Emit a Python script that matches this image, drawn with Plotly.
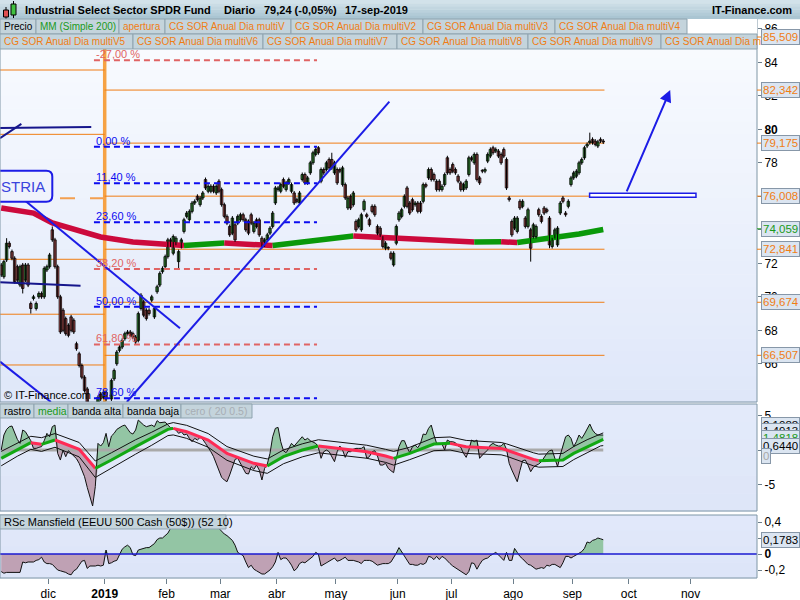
import numpy as np
import pandas as pd
import plotly.graph_objects as go

# ====================== DATA ======================
TITLE_NAME = "Industrial Select Sector SPDR Fund"
TITLE_PERIOD = "Diario"
TITLE_LAST = "79,24 (-0,05%)"
TITLE_DATE = "17-sep-2019"
BRAND = "IT-Finance.com"
LAST_DAY = "2019-09-17"

opens = [
    71.9, 71.2, 72.2, 73.2, 72.7, 72.3, 71.8, 70.7, 71.9, 71.0,
    71.9, 69.6, 69.9, 69.3, 70.0, 70.2, 70.0, 71.6, 71.8, 74.0,
    73.4, 71.8, 70.0, 69.2, 68.7, 68.3, 68.8, 68.6, 67.2, 66.6,
    65.9, 65.2, 64.5, 63.4, 61.6, 62.2, 63.1, 64.2, 64.0,
    64.3, 63.6, 63.9, 65.1, 66.0, 66.8, 67.0, 67.5, 67.8, 67.9,
    67.8, 67.6, 67.4, 69.3, 69.7, 69.2, 69.2, 69.8, 68.8, 70.3,
    70.7, 71.5, 71.8, 72.4, 73.4, 72.6, 73.2, 72.1, 73.0, 73.9,
    74.8, 74.6, 75.1, 75.6, 76.0, 75.5, 75.9, 77.0, 76.3, 76.3,
    76.6, 76.2, 76.9, 76.4, 75.5, 74.8, 74.2, 73.8, 74.3, 74.4,
    74.6, 74.9, 74.6, 74.5, 74.9, 73.9, 74.6, 74.6, 73.5, 73.1,
    73.4, 73.8, 74.2, 75.6, 76.4, 76.3, 77.0, 76.4, 76.8, 76.3,
    76.2, 75.8, 75.6, 77.0, 77.3, 76.8, 77.4, 78.0, 78.5, 78.9,
    76.9, 77.6, 77.6, 78.2, 78.2, 77.4, 77.6, 77.6, 76.7, 76.7,
    75.3, 76.0, 75.5, 74.5, 74.2, 74.0, 75.2, 74.9, 74.6, 75.4,
    75.4, 74.2, 74.1, 73.5, 72.9, 72.9, 72.6, 71.9, 73.2, 74.6,
    74.8, 75.4, 76.5, 75.6, 75.8, 75.5, 75.6, 75.6, 75.7, 76.7,
    77.1, 77.6, 77.3, 76.9, 76.9, 76.4, 76.7, 78.3, 77.6, 77.9,
    77.6, 77.2, 76.8, 76.4, 76.5, 77.3, 78.3, 78.0, 78.5, 77.1,
    77.5, 77.5, 78.1, 78.4, 78.9, 78.7, 78.7, 78.5, 78.8, 78.2,
    75.9, 74.5, 74.1, 73.9, 75.7, 75.4, 74.7, 74.2, 74.0, 73.6,
    73.6, 75.2, 74.8, 75.3, 75.2, 74.7, 73.0, 73.6, 73.1, 75.0,
    75.9, 75.0, 75.4, 76.7, 77.1, 77.2, 77.4, 78.0, 78.3, 79.0,
    79.2, 79.4, 79.3, 79.0, 79.4, 79.3,
]
closes = [
    71.3, 72.1, 73.2, 73.0, 72.3, 70.9, 71.0, 71.8, 70.5, 71.9,
    70.7, 69.3, 70.0, 69.6, 70.2, 70.0, 71.7, 71.8, 72.5, 73.4,
    71.8, 70.0, 67.9, 68.0, 67.8, 67.7, 68.0, 67.9, 66.9, 65.9,
    65.2, 64.4, 63.4, 61.5, 62.4, 63.6, 64.0, 63.9, 64.3,
    63.9, 63.0, 65.0, 65.6, 66.7, 67.0, 67.4, 67.8, 67.9, 67.7,
    67.6, 67.3, 69.0, 70.1, 68.9, 68.7, 69.0, 70.0, 69.3, 70.6,
    71.4, 71.7, 72.4, 73.4, 73.1, 73.6, 73.5, 72.7, 73.4, 74.6,
    75.0, 75.1, 75.6, 75.7, 75.8, 75.9, 76.2, 76.5, 76.6, 76.6,
    76.3, 76.6, 76.3, 75.5, 74.8, 74.4, 73.7, 74.7, 73.4, 74.8,
    74.9, 74.6, 74.0, 73.8, 74.4, 74.4, 74.2, 73.7, 73.0, 73.4,
    73.7, 74.1, 75.0, 76.5, 76.5, 76.7, 76.6, 76.8, 77.0, 76.7,
    75.6, 75.7, 76.2, 77.3, 76.8, 77.1, 78.0, 78.6, 78.8, 78.6,
    77.6, 77.4, 78.0, 77.7, 77.7, 78.0, 76.8, 77.5, 77.7, 75.9,
    75.9, 75.3, 76.2, 74.0, 74.6, 74.9, 75.7, 74.8, 74.3, 75.1,
    74.9, 73.8, 73.7, 73.0, 73.2, 72.9, 72.3, 72.6, 74.2, 75.0,
    75.2, 76.0, 75.4, 75.0, 75.2, 75.6, 75.1, 75.1, 76.7, 76.6,
    77.6, 77.0, 77.0, 76.4, 76.4, 76.6, 77.3, 77.4, 77.4, 77.5,
    77.4, 76.9, 76.4, 76.7, 76.9, 78.3, 78.2, 78.5, 77.0, 76.8,
    77.5, 77.6, 78.5, 78.8, 78.6, 78.8, 78.4, 78.0, 78.4, 76.5,
    75.8, 73.7, 74.7, 74.7, 75.3, 75.7, 74.2, 75.2, 72.9, 74.3,
    74.2, 74.9, 74.5, 75.0, 75.1, 73.1, 73.4, 74.0, 74.1, 75.6,
    75.7, 74.9, 75.7, 77.1, 77.4, 77.5, 78.0, 78.2, 78.9, 79.1,
    79.3, 79.2, 79.1, 79.25, 79.3, 79.24,
]
high_marks = {"2018-11-09": 73.5, "2018-12-04": 74.2, "2019-04-22": 79.0,
              "2019-04-29": 78.6, "2019-09-10": 79.8}
low_marks = {"2018-11-19": 70.2, "2018-11-22": 69.0, "2018-12-24": 60.3,
             "2019-02-07": 71.6, "2019-05-30": 71.8, "2019-08-09": 72.1,
             "2019-08-20": 72.9}

# 200-day simple moving average
ma_dates = ["2018-11-07", "2018-11-23", "2018-12-04", "2018-12-19", "2018-12-28",
            "2019-01-15", "2019-02-01", "2019-02-11", "2019-03-04", "2019-03-22",
            "2019-03-28", "2019-04-11", "2019-04-26", "2019-05-09", "2019-05-23",
            "2019-06-03", "2019-06-18", "2019-07-04", "2019-07-11", "2019-07-25",
            "2019-08-02", "2019-08-14", "2019-08-26", "2019-09-04", "2019-09-17"]
ma_vals = [75.30, 75.00, 74.41, 73.87, 73.57, 73.27, 73.09, 73.06, 73.21, 73.10,
           73.06, 73.24, 73.48, 73.63, 73.54, 73.51, 73.42, 73.33, 73.27, 73.29,
           73.24, 73.39, 73.54, 73.75, 74.02]
ma_last_label = 74.059

# Fibonacci retracement (0 % = April high, 100 % = December low)
fib_top = 78.96
fib_bottom = 59.86
fib_pcts = [-27.0, 0.0, 11.4, 23.6, 38.2, 50.0, 61.8, 78.6]
fib_is_red = [True, False, False, False, True, False, True, False]
fib_start, fib_end = "2018-12-26", "2019-04-22"

# "CG SOR Anual" support / resistance levels
sor_2019 = [85.509, 82.342, 79.175, 76.008, 72.841, 69.674, 66.507]
sor_2018 = [83.54, 79.70, 72.24, 68.96, 65.93]
sor_2018_dashed = 75.88

# hand-drawn trend lines: (date0, price0, date1, price1, colour)
X_LEFT = "2018-11-07 01:00"
X_RIGHT = "2019-12-05 17:00"
trend_lines = [
    (X_LEFT, 80.08, "2018-12-25", 80.14, "navy"),
    (X_LEFT, 79.47, "2018-11-19", 80.32, "navy"),
    (X_LEFT, 70.87, "2018-12-19", 70.66, "navy"),
    (X_LEFT, 66.13, "2018-12-04", 63.72, "blue"),
    (X_LEFT, 76.97, "2019-02-08", 68.12, "blue"),
    ("2019-01-11 06:00", 63.72, "2019-05-28 22:00", 81.65, "blue"),
]
arrow_from = ("2019-09-30", 76.21)
arrow_to = ("2019-10-22 10:00", 82.35)
target_box = ("2019-09-10 10:00", 75.94, "2019-11-05", 76.18)

# indicator panel ("rastro", "media", bands)
rastro = [
    0.00, 2.19, 3.01, 3.40, 3.50, 2.43, 1.55, 0.97, 2.92, 2.67,
    2.04, 1.36, 0.24, 0.24, 0.39, 0.49, 1.36, 2.43, 1.94, 3.40,
    3.64, -0.49, -1.46, 0.00, -0.97, -0.10, -0.49, -0.87, -1.26, -1.94,
    -2.92, -3.89, -5.44, -6.90, -8.16, -5.34, 0.97, 0.58, 1.07, 2.43,
    0.49, 2.04, 2.43, 3.01, 3.30, 3.50, 3.64, 3.01, 2.53, 2.33,
    2.92, 4.37, 3.98, 3.64, 3.40, 3.50, 3.64, 3.40, 4.28, 3.98,
    3.98, 4.08, 3.64, 3.26, 3.16, 2.92, 2.43, 2.67, 2.19, 2.33,
    1.70, 1.21, 1.70, 1.46, 1.85, 1.55, 0.97, 0.39, -0.24, -0.97,
    -1.94, -3.16, -3.98, -4.37, -4.62, -3.64, -2.43, -1.36, -1.21, -2.04,
    -2.67, -3.40, -3.50, -2.43, -2.82, -2.19, -2.92, -4.37, -2.67, -2.04,
    -0.49, 1.94, 3.16, 3.30, 1.21, -0.10, -0.39, 0.24, 0.97, 0.58,
    1.07, 1.55, 1.94, 1.46, 1.70, 1.36, 1.17, 0.97, 0.39, -1.21,
    -0.24, 0.00, -0.24, -0.97, -1.70, -0.24, 0.58, 0.00, -1.07, -0.24,
    -0.24, 0.10, 0.24, 0.24, 0.24, 0.49, -1.21, -0.97, -0.24, -0.10,
    -0.87, -2.19, -2.19, -1.94, -2.67, -3.01, -3.30, -1.21, 0.49, 1.36,
    1.36, 0.39, -0.39, 0.49, 0.73, 0.34, 0.97, 2.33, 2.24, 3.16,
    3.64, 2.19, 0.97, 0.97, 0.87, 0.00, 1.46, 1.21, 1.21, 1.07,
    0.58, 0.39, -0.49, -1.07, 0.00, 1.46, 1.21, 1.46, -1.21, -0.73,
    -0.39, 0.00, 0.73, 0.97, 0.73, 0.58, 0.58, 0.97, 0.10, -1.94,
    -2.92, -3.79, -4.62, -3.01, -1.55, -1.46, -2.19, -3.16, -2.53, -2.24,
    -2.04, -1.70, -1.07, -0.49, -0.10, 0.00, -1.21, -2.43, -0.73, 0.73,
    1.94, 2.19, 1.70, 0.49, 1.21, 2.19, 1.70, 2.33, 3.16, 3.79,
    2.92, 2.43, 2.19, 2.19, 2.19,
]
media_dates = ["2018-11-07", "2018-11-15", "2018-11-22", "2018-11-28", "2018-12-05",
               "2018-12-18", "2018-12-26", "2019-01-03", "2019-01-16", "2019-01-24",
               "2019-02-01", "2019-02-05", "2019-02-12", "2019-02-22", "2019-03-05",
               "2019-03-19", "2019-03-26", "2019-04-03", "2019-04-12", "2019-04-22",
               "2019-05-08", "2019-05-16", "2019-05-27", "2019-05-30", "2019-06-07",
               "2019-06-20", "2019-06-28", "2019-07-08", "2019-07-25", "2019-07-29",
               "2019-08-12", "2019-08-14", "2019-08-27", "2019-09-02", "2019-09-09",
               "2019-09-16", "2019-09-17"]
media_vals = [-1.21, 0.10, 1.07, 0.83, 1.46, 0.10, -2.67, -1.46, 0.49, 1.70,
              3.01, 3.16, 2.67, 1.46, -0.49, -1.94, -2.33, -0.97, 0.00, 0.58,
              0.00, -0.24, -0.87, -1.21, -0.49, 0.87, 0.97, 0.49, 0.24, 0.00,
              -1.36, -1.55, -1.46, -0.49, 0.49, 1.46, 1.55]
band_hi = [-0.2, 1.0, 2.0, 1.8, 2.4, 1.1, -1.6, -0.4, 1.5, 2.6,
           3.8, 4.0, 3.6, 2.4, 0.5, -0.9, -1.3, 0.0, 0.9, 1.5,
           0.9, 0.7, 0.1, -0.2, 0.4, 1.8, 1.9, 1.4, 1.1, 0.9,
           -0.4, -0.6, -0.5, 0.5, 1.5, 2.4, 2.5]
band_lo = [-2.3, -0.9, 0.1, -0.2, 0.4, -1.0, -4.0, -2.6, -0.6, 0.7,
           2.1, 2.2, 1.7, 0.4, -1.5, -3.0, -3.4, -2.0, -1.0, -0.4,
           -1.0, -1.2, -1.8, -2.2, -1.4, -0.1, 0.0, -0.5, -0.7, -0.9,
           -2.3, -2.5, -2.4, -1.4, -0.4, 0.6, 0.644]
p2_labels = [("2,1088", 3.6, "#000000"), ("1,4913", 2.75, "#000000"),
             ("1,4818", 1.8, "#1a9a1a"), ("0,6440", 0.62, "#000000"),
             ("0", -0.85, "#a8a8a8")]

# Mansfield relative strength vs S&P 500
rs = [
    -0.22, -0.24, -0.23, -0.23, -0.23, -0.23, -0.23, -0.23, -0.10, -0.11,
    -0.10, -0.10, -0.10, -0.08, -0.07, -0.04, -0.10, -0.12, -0.12, -0.13,
    -0.16, -0.20, -0.21, -0.22, -0.23, -0.25, -0.26, -0.21, -0.19, -0.14,
    -0.09, -0.08, -0.18, -0.15, -0.15, -0.15, -0.14, -0.15, -0.14, 0.05,
    -0.12, -0.11, -0.09, -0.08, -0.01, 0.06, 0.09, 0.11, 0.08, -0.01,
    -0.02, 0.05, 0.06, 0.07, 0.08, 0.08, 0.10, 0.13, 0.18, 0.20,
    0.20, 0.23, 0.26, 0.32, 0.36, 0.40, 0.45, 0.49, 0.53, 0.55,
    0.57, 0.57, 0.55, 0.53, 0.53, 0.52, 0.51, 0.51, 0.50, 0.47,
    0.38, 0.32, 0.28, 0.25, 0.23, 0.20, 0.17, 0.11, 0.02, 0.00,
    -0.02, -0.10, -0.17, -0.14, -0.19, -0.21, -0.23, -0.25, -0.25, -0.23,
    -0.20, -0.16, -0.10, 0.02, -0.07, -0.05, -0.05, -0.09, -0.14, -0.21,
    -0.18, -0.12, -0.10, -0.11, -0.08, -0.06, -0.03, 0.02, 0.00, -0.15,
    -0.13, -0.10, -0.09, -0.07, -0.05, -0.09, -0.08, -0.06, -0.04, -0.08,
    -0.08, -0.08, -0.09, -0.10, -0.12, -0.08, -0.08, -0.08, -0.09, -0.12,
    -0.14, -0.13, -0.12, -0.12, -0.12, -0.10, -0.05, 0.01, 0.08, 0.03,
    -0.02, -0.08, -0.13, -0.13, -0.14, -0.14, -0.12, -0.13, -0.11, -0.03,
    -0.04, -0.07, -0.03, -0.07, -0.03, -0.05, -0.09, -0.12, -0.15, -0.17,
    -0.19, -0.21, -0.23, -0.26, -0.22, -0.11, -0.12, -0.19, -0.13, -0.08,
    -0.06, -0.05, -0.02, 0.00, 0.02, -0.01, -0.04, -0.08, 0.02, -0.08,
    -0.08, 0.07, 0.02, -0.03, -0.06, -0.10, -0.13, -0.14, -0.16, -0.19,
    -0.18, -0.17, -0.18, -0.14, -0.15, -0.13, -0.13, -0.15, -0.17, -0.11,
    -0.03, -0.03, -0.05, -0.03, -0.01, 0.00, 0.03, 0.07, 0.15, 0.14,
    0.17, 0.18, 0.20, 0.19, 0.1783,
]
rs_last_label = "0,1783"

x_tick_dates = ["2018-12-03", "2019-01-01", "2019-02-01", "2019-03-01", "2019-04-01",
                "2019-05-01", "2019-06-03", "2019-07-01", "2019-08-01", "2019-09-02",
                "2019-10-01", "2019-11-01"]
x_tick_text = ["dic", "<b>2019</b>", "feb", "mar", "abr", "may", "jun", "jul",
               "ago", "sep", "oct", "nov"]

legend_row1 = [("Precio", "black"), ("MM (Simple 200)", "green"), ("apertura", "orange"),
               ("CG SOR Anual Dia multiV", "orange"), ("CG SOR Anual Dia multiV2", "orange"),
               ("CG SOR Anual Dia multiV3", "orange"), ("CG SOR Anual Dia multiV4", "orange")]
legend_row2 = [("CG SOR Anual Dia multiV5", "orange"), ("CG SOR Anual Dia multiV6", "orange"),
               ("CG SOR Anual Dia multiV7", "orange"), ("CG SOR Anual Dia multiV8", "orange"),
               ("CG SOR Anual Dia multiV9", "orange"), ("CG SOR Anual Dia m", "orange")]
legend_p2 = [("rastro", "black"), ("media", "green"), ("banda alta", "black"),
             ("banda baja", "black"), ("cero ( 20 0.5)", "grey")]
legend_p3 = [("RSc Mansfield (EEUU 500 Cash (50$)) (52 10)", "black")]

# ====================== STYLE / LAYOUT ======================
W, H = 800, 600
def fx(px): return px / W
def fy(py): return 1 - py / H

FONT = "Arial, 'Liberation Sans', sans-serif"
ORANGE = "#f07d14"
GREEN_T = "#1a9a1a"
BLUE = "#1c1ce6"
NAVY = "#16168c"
FIB_BLUE = "#0c0cf0"
FIB_RED = "#e06464"
MA_GREEN = "#0a990a"
MA_RED = "#cc0a3c"
MED_GREEN = "#12a812"
MED_RED = "#ff2a55"
FILL_UP = "#93c5a4"
FILL_DN = "#bfa1b4"
TXTC = {"black": "#000000", "green": GREEN_T, "orange": ORANGE, "grey": "#a8aeb4"}

X_R = 757 / W
DOM_MAIN = [fy(402), fy(19)]
DOM_P2 = [fy(511), fy(404)]
DOM_P3 = [fy(578), fy(515)]
Y_MAIN = [63.72, 86.585]
Y_P2 = [-8.89, 6.71]
Y_P3 = [-0.30, 0.4875]
HALF_DAY = pd.Timedelta(hours=12)
DAY_MS = 86400000

dates = pd.bdate_range(end=LAST_DAY, periods=len(closes))
mid = dates + HALF_DAY          # candles centred inside their trading day
day_pos = {d: k for k, d in enumerate(dates)}
highs = [max(o, c) + 0.12 for o, c in zip(opens, closes)]
lows = [min(o, c) - 0.12 for o, c in zip(opens, closes)]
for d, v in high_marks.items():
    highs[day_pos[pd.Timestamp(d)]] = v
for d, v in low_marks.items():
    lows[day_pos[pd.Timestamp(d)]] = v


def colored_runs(xs, ys, up, down):
    runs, cur_c, cx, cy = [], None, [], []
    for k in range(len(xs) - 1):
        c = up if ys[k + 1] >= ys[k] else down
        if c != cur_c:
            if cur_c is not None:
                runs.append((cur_c, cx, cy))
            cur_c, cx, cy = c, [xs[k]], [ys[k]]
        cx.append(xs[k + 1]); cy.append(ys[k + 1])
    runs.append((cur_c, cx, cy))
    return runs


fig = go.Figure()

# ---- main panel: MA 200, wicks, bodies
ma_mid = [pd.Timestamp(d) + HALF_DAY for d in ma_dates]
for c, xs, ys in colored_runs(ma_mid, ma_vals, MA_GREEN, MA_RED):
    fig.add_trace(go.Scatter(x=xs, y=ys, mode="lines", line=dict(color=c, width=5.5),
                             hoverinfo="skip", showlegend=False, xaxis="x", yaxis="y"))
wx, wy = [], []
for d, h, l in zip(mid, highs, lows):
    wx += [d, d, None]
    wy += [l, h, None]
fig.add_trace(go.Scatter(x=wx, y=wy, mode="lines", line=dict(color="#000000", width=1),
                         hoverinfo="skip", showlegend=False, xaxis="x", yaxis="y"))
body_base = [min(o, c) for o, c in zip(opens, closes)]
body_h = [max(abs(c - o), 0.05) for o, c in zip(opens, closes)]
body_col = ["#4cc44c" if c > o else "#e36a6a" for o, c in zip(opens, closes)]
fig.add_trace(go.Bar(x=mid, y=body_h, base=body_base, width=0.92 * DAY_MS,
                     marker=dict(color=body_col, line=dict(color="#000000", width=0.8)),
                     hoverinfo="skip", showlegend=False, xaxis="x", yaxis="y"))

# ---- panel 2
mpos = [day_pos[pd.Timestamp(d)] for d in media_dates]
media_daily = np.interp(np.arange(len(dates)), mpos, media_vals)
r = np.array(rastro)
upper = np.maximum(r, media_daily)
lower = np.minimum(r, media_daily)
for edge, col in ((upper, FILL_UP), (lower, FILL_DN)):
    fig.add_trace(go.Scatter(x=mid, y=media_daily, mode="lines", line=dict(width=0),
                             hoverinfo="skip", showlegend=False, xaxis="x2", yaxis="y2"))
    fig.add_trace(go.Scatter(x=mid, y=edge, mode="lines", line=dict(width=0), fill="tonexty",
                             fillcolor=col, hoverinfo="skip", showlegend=False,
                             xaxis="x2", yaxis="y2"))
fig.add_trace(go.Scatter(x=[mid[0], mid[-1]], y=[0, 0], mode="lines",
                         line=dict(color="#a9a9a9", width=3), hoverinfo="skip",
                         showlegend=False, xaxis="x2", yaxis="y2"))
media_mid = [pd.Timestamp(d) + HALF_DAY for d in media_dates]
for band in (band_hi, band_lo):
    fig.add_trace(go.Scatter(x=media_mid, y=band, mode="lines",
                             line=dict(color="#111111", width=1), hoverinfo="skip",
                             showlegend=False, xaxis="x2", yaxis="y2"))
fig.add_trace(go.Scatter(x=mid, y=rastro, mode="lines", line=dict(color="#111111", width=1),
                         hoverinfo="skip", showlegend=False, xaxis="x2", yaxis="y2"))
for c, xs, ys in colored_runs(media_mid, media_vals, MED_GREEN, MED_RED):
    fig.add_trace(go.Scatter(x=xs, y=ys, mode="lines", line=dict(color=c, width=3),
                             hoverinfo="skip", showlegend=False, xaxis="x2", yaxis="y2"))

# ---- panel 3
rsa = np.array(rs)
fig.add_trace(go.Scatter(x=mid, y=np.maximum(rsa, 0), mode="lines", line=dict(width=0),
                         fill="tozeroy", fillcolor=FILL_UP, hoverinfo="skip",
                         showlegend=False, xaxis="x3", yaxis="y3"))
fig.add_trace(go.Scatter(x=mid, y=np.minimum(rsa, 0), mode="lines", line=dict(width=0),
                         fill="tozeroy", fillcolor=FILL_DN, hoverinfo="skip",
                         showlegend=False, xaxis="x3", yaxis="y3"))
fig.add_trace(go.Scatter(x=mid, y=rs, mode="lines", line=dict(color="#111111", width=1),
                         hoverinfo="skip", showlegend=False, xaxis="x3", yaxis="y3"))

# ====================== SHAPES ======================
shapes = []

def rgb(c): return "rgb(%d,%d,%d)" % c
def lerp(c0, c1, t): return tuple(int(round(a + (b - a) * t)) for a, b in zip(c0, c1))

def gradient(ytop, ybot, ctop, cbot, n):
    h = (ybot - ytop) / n
    for k in range(n):
        shapes.append(dict(type="rect", xref="paper", yref="paper", x0=0, x1=X_R,
                           y0=fy(ytop + (k + 1) * h + 0.5), y1=fy(ytop + k * h),
                           fillcolor=rgb(lerp(ctop, cbot, (k + 0.5) / n)),
                           line=dict(width=0), layer="below"))
gradient(19, 402, (250, 252, 255), (223, 231, 249), 30)
gradient(404, 511, (228, 235, 250), (221, 229, 248), 6)
gradient(515, 578, (226, 233, 250), (220, 228, 248), 4)

# SOR levels
for lv in sor_2019:
    shapes.append(dict(type="line", xref="x", yref="y", x0="2019-01-01", x1=LAST_DAY + " 23:00",
                       y0=lv, y1=lv, line=dict(color=ORANGE, width=1), layer="below"))
for lv in sor_2018:
    shapes.append(dict(type="line", xref="x", yref="y", x0=X_LEFT, x1="2019-01-01",
                       y0=lv, y1=lv, line=dict(color=ORANGE, width=1), layer="below"))
shapes.append(dict(type="line", xref="x", yref="y", x0=X_LEFT, x1="2019-01-01",
                   y0=sor_2018_dashed, y1=sor_2018_dashed,
                   line=dict(color="#f3a050", width=2, dash="15px,15px"), layer="below"))
shapes.append(dict(type="line", xref="x", yref="y domain", x0="2019-01-01", x1="2019-01-01",
                   y0=0, y1=1, line=dict(color="#f6a244", width=3.5), layer="below"))

# fibonacci
fib_range = fib_top - fib_bottom
fib_levels = [fib_top - p / 100.0 * fib_range for p in fib_pcts]
for lv, red in zip(fib_levels, fib_is_red):
    shapes.append(dict(type="line", xref="x", yref="y", x0=fib_start, x1=fib_end,
                       y0=lv, y1=lv,
                       line=dict(color=FIB_RED if red else FIB_BLUE, width=2, dash="6px,4px"),
                       layer="above"))

# trend lines
for d0, p0, d1, p1, kind in trend_lines:
    shapes.append(dict(type="line", xref="x", yref="y", x0=d0, y0=p0, x1=d1, y1=p1,
                       line=dict(color=NAVY if kind == "navy" else BLUE, width=2),
                       layer="above"))
shapes.append(dict(type="rect", xref="x", yref="y", x0=target_box[0], y0=target_box[1],
                   x1=target_box[2], y1=target_box[3], fillcolor="white",
                   line=dict(color=BLUE, width=1.5), layer="above"))

# "INDUSTRIA" rounded box (cut at left edge)
bx0, bx1, by0, by1 = -0.02, fx(52.3), fy(201.7), fy(170.7)
rx, ry = 6 / W, 6 / H
shapes.append(dict(type="path", xref="paper", yref="paper",
                   path=(f"M {bx0},{by0} L {bx1 - rx},{by0} Q {bx1},{by0} {bx1},{by0 + ry} "
                         f"L {bx1},{by1 - ry} Q {bx1},{by1} {bx1 - rx},{by1} L {bx0},{by1} Z"),
                   fillcolor="#f0f3fc", line=dict(color=BLUE, width=2), layer="above"))

# panel 3 zero line
shapes.append(dict(type="line", xref="paper", yref="y3", x0=0, x1=X_R, y0=0, y1=0,
                   line=dict(color="#1a1ad0", width=1.5), layer="above"))

# panel frames
for top, bot in ((19, 402), (404, 511), (515, 578)):
    shapes.append(dict(type="rect", xref="paper", yref="paper", x0=0, x1=X_R,
                       y0=fy(bot), y1=fy(top), line=dict(color="#7f96a6", width=1),
                       fillcolor="rgba(0,0,0,0)", layer="above"))

# title bar
nb = 6
for k in range(nb):
    shapes.append(dict(type="rect", xref="paper", yref="paper", x0=0, x1=1,
                       y0=fy(19 * (k + 1) / nb + 0.3), y1=fy(19 * k / nb),
                       fillcolor=rgb(lerp((214, 229, 236), (166, 194, 208), (k + 0.5) / nb)),
                       line=dict(width=0), layer="above"))
for xc, yt, yb, wt, wb, col in ((6, 10, 17, 7, 19, "#e05050"), (13.5, 4, 15, 1, 18, "#40c040")):
    shapes.append(dict(type="line", xref="paper", yref="paper", x0=fx(xc), x1=fx(xc),
                       y0=fy(wb), y1=fy(wt), line=dict(color="#000", width=1), layer="above"))
    shapes.append(dict(type="rect", xref="paper", yref="paper", x0=fx(xc - 2.5), x1=fx(xc + 2.5),
                       y0=fy(yb), y1=fy(yt), fillcolor=col, line=dict(color="#000", width=1),
                       layer="above"))

annotations = []

def legend_boxes(items, xs, ytop, ybot, size=10):
    for (txt, col), x0, x1 in zip(items, xs[:-1], xs[1:]):
        shapes.append(dict(type="rect", xref="paper", yref="paper", x0=fx(x0), x1=fx(x1),
                           y0=fy(ybot), y1=fy(ytop), fillcolor="#c4d4dc",
                           line=dict(color="#8ea3af", width=1), layer="above"))
        annotations.append(dict(xref="paper", yref="paper", x=fx(x0 + 1.5), y=fy((ytop + ybot) / 2),
                                xanchor="left", yanchor="middle", text=txt, showarrow=False,
                                font=dict(family=FONT, size=size, color=TXTC[col])))

shapes.append(dict(type="rect", xref="paper", yref="paper", x0=fx(687), x1=X_R,
                   y0=fy(34), y1=fy(19), fillcolor="white", line=dict(width=0), layer="above"))
legend_boxes(legend_row1, [0, 36, 119, 165, 291, 423, 555, 687], 19, 34)
legend_boxes(legend_row2, [0, 133, 263, 397, 528, 661, 757], 34, 49)
legend_boxes(legend_p2, [0, 34, 68, 123, 181, 252], 404, 418, 10.5)
legend_boxes(legend_p3, [0, 226], 515, 529, 11)

# ====================== ANNOTATIONS ======================
tfont = dict(family=FONT, size=11, color="#000000")
for txt, x in ((TITLE_NAME, 23), (TITLE_PERIOD, 222), (TITLE_LAST, 262), (TITLE_DATE, 343)):
    annotations.append(dict(xref="paper", yref="paper", x=fx(x), y=fy(10), xanchor="left",
                            yanchor="middle", text=f"<b>{txt}</b>", showarrow=False, font=tfont))
annotations.append(dict(xref="paper", yref="paper", x=fx(794), y=fy(10), xanchor="right",
                        yanchor="middle", text=f"<b>{BRAND}</b>", showarrow=False, font=tfont))

annotations.append(dict(xref="paper", yref="paper", x=fx(47), y=fy(186.5), xanchor="right",
                        yanchor="middle", text="STRIA", showarrow=False,
                        font=dict(family=FONT, size=15, color="#3a44dd")))
annotations.append(dict(xref="paper", yref="paper", x=fx(2), y=fy(395), xanchor="left",
                        yanchor="middle", text="© IT-Finance.com", showarrow=False,
                        font=dict(family=FONT, size=11, color="#000000")))

for p, lv, red in zip(fib_pcts, fib_levels, fib_is_red):
    annotations.append(dict(xref="x", yref="y", x=fib_start, y=lv, xanchor="left",
                            yanchor="bottom", yshift=-2, showarrow=False,
                            text=f"{p:.2f}".replace(".", ",") + " %",
                            font=dict(family=FONT, size=11, color=FIB_RED if red else FIB_BLUE)))

annotations.append(dict(xref="x", yref="y", x=arrow_to[0], y=arrow_to[1], axref="x", ayref="y",
                        ax=arrow_from[0], ay=arrow_from[1], text="", showarrow=True,
                        arrowhead=2, arrowsize=1.2, arrowwidth=2, arrowcolor=BLUE))

def value_box(txt, y, yref, col, tickcol=None):
    annotations.append(dict(xref="paper", yref=yref, x=fx(761), y=y, xanchor="left",
                            yanchor="middle", text=txt, showarrow=False,
                            font=dict(family=FONT, size=11.5, color=col),
                            bgcolor="#dbe5f1", bordercolor="#8797a8", borderwidth=1, borderpad=1))
    if tickcol:
        shapes.append(dict(type="line", xref="paper", yref=yref, x0=X_R, x1=fx(761), y0=y, y1=y,
                           line=dict(color=tickcol, width=1), layer="above"))

for lv in sor_2019:
    value_box(f"{lv:.3f}".replace(".", ","), lv, "y", ORANGE, ORANGE)
value_box(f"{ma_last_label:.3f}".replace(".", ","), ma_last_label, "y", GREEN_T, GREEN_T)
for txt, v, col in p2_labels:
    value_box(txt, v, "y2", col)
value_box(rs_last_label, rsa[-1], "y3", "#000000")

# ====================== LAYOUT ======================
axfont = dict(family=FONT, size=12, color="#000000")
hidden_main = {74, 76}            # labels fully covered by value boxes in the original
xcommon = dict(range=[X_LEFT, X_RIGHT], rangebreaks=[dict(bounds=["sat", "mon"])],
               showgrid=False, zeroline=False, showline=False, domain=[0, X_R])
fig.update_layout(
    width=W, height=H, autosize=False,
    margin=dict(l=0, r=0, t=0, b=0),
    paper_bgcolor="white", plot_bgcolor="white",
    showlegend=False, hovermode=False, bargap=0,
    font=dict(family=FONT),
    xaxis=dict(**xcommon, anchor="y", showticklabels=False, rangeslider=dict(visible=False)),
    xaxis2=dict(**xcommon, anchor="y2", matches="x", showticklabels=False),
    xaxis3=dict(**xcommon, anchor="y3", matches="x", tickvals=x_tick_dates, ticktext=x_tick_text,
                ticks="outside", ticklen=5, tickcolor="#6d7f8c", tickfont=axfont),
    yaxis=dict(domain=DOM_MAIN, range=Y_MAIN, anchor="x", side="right", showgrid=False,
               zeroline=False, tickvals=list(range(66, 87, 2)),
               ticktext=["<b>80</b>" if v == 80 else ("" if v in hidden_main else str(v))
                         for v in range(66, 87, 2)],
               ticks="outside", ticklen=4, tickcolor="#6d7f8c", tickfont=axfont),
    yaxis2=dict(domain=DOM_P2, range=Y_P2, anchor="x2", side="right", showgrid=False,
                zeroline=False, tickvals=[-5, 0, 5], ticktext=["-5", "", "5"],
                ticks="outside", ticklen=4, tickcolor="#6d7f8c", tickfont=axfont),
    yaxis3=dict(domain=DOM_P3, range=Y_P3, anchor="x3", side="right", showgrid=False,
                zeroline=False, tickvals=[-0.2, 0, 0.2, 0.4],
                ticktext=["-0,2", "<b>0</b>", "", "0,4"],
                ticks="outside", ticklen=4, tickcolor="#6d7f8c", tickfont=axfont),
    shapes=shapes,
    annotations=annotations,
)

fig.write_html("out.html", include_plotlyjs=True, full_html=True,
               config={"displayModeBar": False, "staticPlot": True},
               post_script="document.body.style.margin='0';")
